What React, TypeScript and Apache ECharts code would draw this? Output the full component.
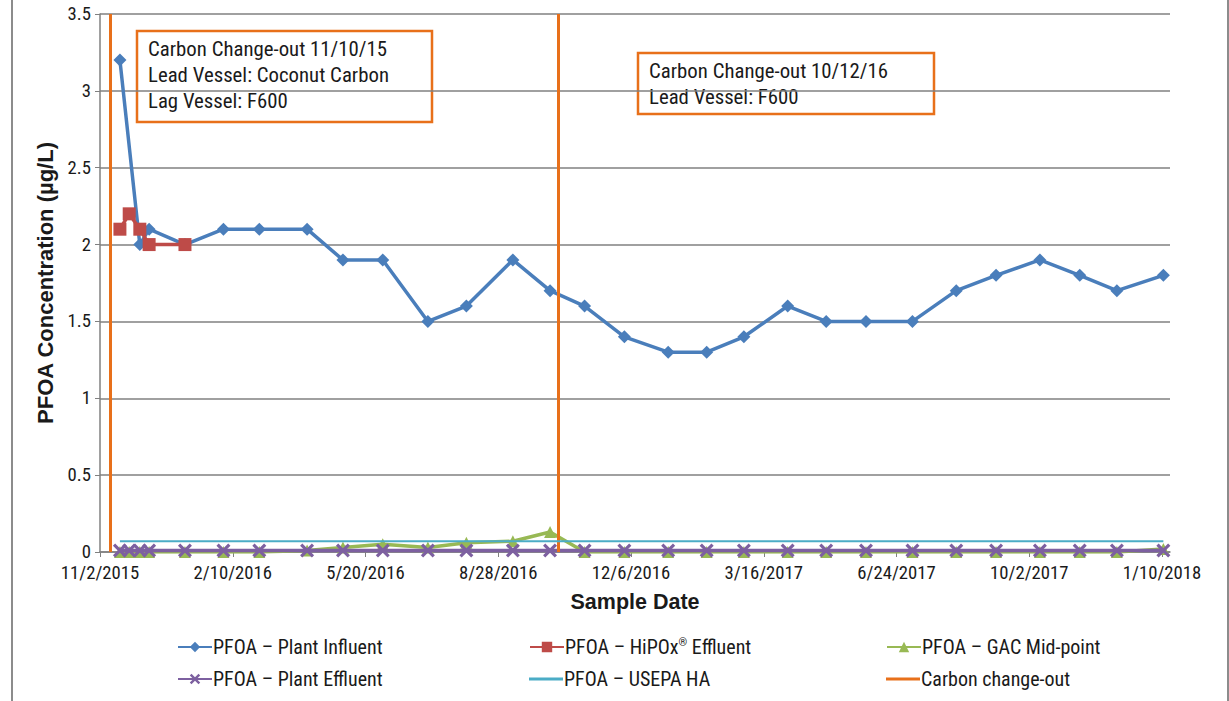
import React, { useEffect, useRef } from "react";
import * as echarts from "echarts";

// ---------- data ----------
const BASE_DATE = "2015-11-02";
const AXIS_MAX_DATE = "2018-01-16";
const X_TICK_DAYS = 100;

const influentDates = [
  "2015-11-17", "2015-12-02", "2015-12-09", "2016-01-05", "2016-02-03", "2016-03-01",
  "2016-04-06", "2016-05-03", "2016-06-02", "2016-07-06", "2016-08-04", "2016-09-08",
  "2016-10-06", "2016-11-01", "2016-12-01", "2017-01-03", "2017-02-01", "2017-03-01",
  "2017-04-03", "2017-05-02", "2017-06-01", "2017-07-06", "2017-08-08", "2017-09-07",
  "2017-10-10", "2017-11-09", "2017-12-07", "2018-01-11",
];
const influentValues = [
  3.2, 2.0, 2.1, 2.0, 2.1, 2.1, 2.1, 1.9, 1.9, 1.5, 1.6, 1.9, 1.7, 1.6, 1.4, 1.3, 1.3, 1.4,
  1.6, 1.5, 1.5, 1.5, 1.7, 1.8, 1.9, 1.8, 1.7, 1.8,
];

const hipoxDates = ["2015-11-17", "2015-11-24", "2015-12-02", "2015-12-09", "2016-01-05"];
const hipoxValues = [2.1, 2.2, 2.1, 2.0, 2.0];

const effluentDates = [
  "2015-11-17", "2015-11-24", "2015-12-02", "2015-12-09", "2016-01-05", "2016-02-03",
  "2016-03-01", "2016-04-06", "2016-05-03", "2016-06-02", "2016-07-06", "2016-08-04",
  "2016-09-08", "2016-10-06", "2016-11-01", "2016-12-01", "2017-01-03", "2017-02-01",
  "2017-03-01", "2017-04-03", "2017-05-02", "2017-06-01", "2017-07-06", "2017-08-08",
  "2017-09-07", "2017-10-10", "2017-11-09", "2017-12-07", "2018-01-11",
];
const gacMidValues = [
  0, 0, 0, 0, 0, 0, 0, 0.01, 0.03, 0.05, 0.03, 0.06, 0.07, 0.13, 0, 0, 0, 0, 0, 0, 0, 0, 0,
  0, 0, 0, 0, 0, 0.02,
];
const plantEffluentValues = [
  0.01, 0.01, 0.01, 0.01, 0.01, 0.01, 0.01, 0.01, 0.01, 0.01, 0.01, 0.01, 0.01, 0.01, 0.01,
  0.01, 0.01, 0.01, 0.01, 0.01, 0.01, 0.01, 0.01, 0.01, 0.01, 0.01, 0.01, 0.01, 0.01,
];

const haDates = ["2015-11-17", "2018-01-11"];
const haValues = [0.07, 0.07];

const changeOutDates = ["2015-11-10", "2016-10-12"];

const yTicks = [0, 0.5, 1, 1.5, 2, 2.5, 3, 3.5];

const annotation1 = ["Carbon Change-out 11/10/15", "Lead Vessel: Coconut Carbon", "Lag Vessel: F600"];
const annotation2 = ["Carbon Change-out 10/12/16", "Lead Vessel: F600"];

const NAMES = {
  influent: "PFOA – Plant Influent",
  hipox: "PFOA – HiPOx® Effluent",
  gac: "PFOA – GAC Mid-point",
  effluent: "PFOA – Plant Effluent",
  ha: "PFOA – USEPA HA",
  carbon: "Carbon change-out",
};

// ---------- helpers ----------
const DAY = 86400000;
const baseMs = Date.parse(BASE_DATE + "T00:00:00Z");
const toDay = (s: string) => Math.round((Date.parse(s + "T00:00:00Z") - baseMs) / DAY);
const pairs = (dates: string[], vals: number[]) => dates.map((d, i) => [toDay(d), vals[i]]);
const fmtDay = (v: number) => {
  const d = new Date(baseMs + v * DAY);
  return `${d.getUTCMonth() + 1}/${d.getUTCDate()}/${d.getUTCFullYear()}`;
};

const FONT = '"Roboto Condensed", Roboto, sans-serif';
const TITLE_FONT = '"Liberation Sans", Arial, sans-serif';
const C = {
  blue: "#4A7EBB",
  red: "#BE4B48",
  green: "#98B954",
  purple: "#7D60A0",
  cyan: "#4BACC6",
  orange: "#E8701A",
  grid: "#808080",
  text: "#1a1a1a",
};

const X_SYMBOL = "path://M1.6,0 L5,3.4 L8.4,0 L10,1.6 L6.6,5 L10,8.4 L8.4,10 L5,6.6 L1.6,10 L0,8.4 L3.4,5 L0,1.6 Z";

function legendAt(name: string, left: number, top: number, lineOnly = false) {
  return {
    data: lineOnly ? [{ name, icon: "rect" }] : [name],
    left,
    top,
    padding: 0,
    itemWidth: 34,
    itemHeight: lineOnly ? 3 : 13,
    itemGap: 0,
    selectedMode: false,
    textStyle: {
      fontFamily: FONT,
      fontSize: 20,
      color: C.text,
      padding: [0, 0, 0, -4],
      rich: { sup: { fontFamily: FONT, fontSize: 11, color: C.text, verticalAlign: "top", padding: [0, 0, 9, 0] } },
    },
    formatter: (n: string) => n.replace("®", "{sup|®}"),
  };
}

function annotationBox(lines: string[], x: number, y: number, w: number, h: number) {
  return {
    type: "group",
    x,
    y,
    z: 100,
    children: [
      {
        type: "rect",
        shape: { x: 0, y: 0, width: w, height: h },
        style: { fill: "#ffffff", stroke: C.orange, lineWidth: 2.5 },
      },
      {
        type: "text",
        x: 11,
        y: 5,
        style: {
          text: lines.join("\n"),
          fontFamily: FONT,
          fontSize: 20.8,
          lineHeight: 26,
          fill: C.text,
        },
      },
    ],
  };
}

export default function App() {
  const ref = useRef<HTMLDivElement>(null);

  useEffect(() => {
    document.body.style.margin = "0";
    const chart = echarts.init(ref.current!, null, { renderer: "svg" });
    const option: any = {
      animation: false,
      backgroundColor: "#ffffff",
      grid: { left: 100, right: 59, top: 14, bottom: 149 },
      xAxis: {
        type: "value",
        min: 0,
        max: toDay(AXIS_MAX_DATE),
        interval: X_TICK_DAYS,
        name: "Sample Date",
        nameLocation: "middle",
        nameGap: 39,
        nameTextStyle: { fontFamily: TITLE_FONT, fontSize: 21.5, fontWeight: "bold", color: C.text },
        axisLine: { show: true, lineStyle: { color: C.grid, width: 1.5 } },
        axisTick: { show: true, length: 5, lineStyle: { color: C.grid } },
        axisLabel: {
          showMaxLabel: false,
          fontFamily: FONT,
          fontSize: 18.7,
          color: C.text,
          margin: 11,
          formatter: (v: number) => fmtDay(v),
        },
        splitLine: { show: false },
      },
      yAxis: {
        type: "value",
        min: yTicks[0],
        max: yTicks[yTicks.length - 1],
        interval: yTicks[1] - yTicks[0],
        name: "PFOA Concentration (µg/L)",
        nameLocation: "middle",
        nameGap: 43,
        nameTextStyle: { fontFamily: TITLE_FONT, fontSize: 22, fontWeight: "bold", color: C.text },
        axisLine: { show: true, lineStyle: { color: C.grid, width: 1.5 } },
        axisTick: { show: true, length: 5, lineStyle: { color: C.grid } },
        axisLabel: { fontFamily: FONT, fontSize: 18.7, color: C.text, margin: 9 },
        splitLine: { show: true, lineStyle: { color: C.grid, width: 1.5 } },
      },
      legend: [
        legendAt(NAMES.influent, 177, 637),
        legendAt(NAMES.hipox, 529, 637),
        legendAt(NAMES.gac, 886, 637),
        legendAt(NAMES.effluent, 177, 669),
        legendAt(NAMES.ha, 529, 669, true),
        legendAt(NAMES.carbon, 886, 669, true),
      ],
      graphic: [
        {
          type: "rect",
          silent: true,
          z: 0,
          shape: { x: 12, y: -5, width: 1216, height: 720 },
          style: { fill: "none", stroke: "#8c8c8c", lineWidth: 2 },
        },
        annotationBox(annotation1, 137, 31, 295, 91),
        annotationBox(annotation2, 638, 53, 296, 61),
      ],
      series: [
        {
          name: NAMES.influent,
          type: "line",
          data: pairs(influentDates, influentValues),
          symbol: "diamond",
          symbolSize: 13,
          lineStyle: { color: C.blue, width: 3.5 },
          itemStyle: { color: C.blue },
          z: 3,
        },
        {
          name: NAMES.hipox,
          type: "line",
          data: pairs(hipoxDates, hipoxValues),
          symbol: "rect",
          symbolSize: 13,
          lineStyle: { color: C.red, width: 3.5 },
          itemStyle: { color: C.red },
          z: 4,
        },
        {
          name: NAMES.gac,
          type: "line",
          data: pairs(effluentDates, gacMidValues),
          symbol: "triangle",
          symbolSize: 12,
          lineStyle: { color: C.green, width: 3.5 },
          itemStyle: { color: C.green },
          z: 3,
        },
        {
          name: NAMES.effluent,
          type: "line",
          data: pairs(effluentDates, plantEffluentValues),
          symbol: X_SYMBOL,
          symbolSize: 14,
          lineStyle: { color: C.purple, width: 3.5 },
          itemStyle: { color: C.purple },
          z: 4,
        },
        {
          name: NAMES.ha,
          type: "line",
          data: pairs(haDates, haValues),
          symbol: "none",
          showSymbol: false,
          lineStyle: { color: C.cyan, width: 2 },
          itemStyle: { color: C.cyan },
          z: 5,
        },
        {
          name: NAMES.carbon,
          type: "line",
          data: [],
          symbol: "none",
          lineStyle: { color: C.orange, width: 3 },
          itemStyle: { color: C.orange },
          z: 6,
          markLine: {
            silent: true,
            symbol: "none",
            label: { show: false },
            lineStyle: { color: C.orange, width: 3, type: "solid" },
            data: changeOutDates.map((d) => ({ xAxis: toDay(d) })),
          },
        },
      ],
    };
    chart.setOption(option);
    return () => chart.dispose();
  }, []);

  return <div ref={ref} style={{ width: 1229, height: 701 }} />;
}
